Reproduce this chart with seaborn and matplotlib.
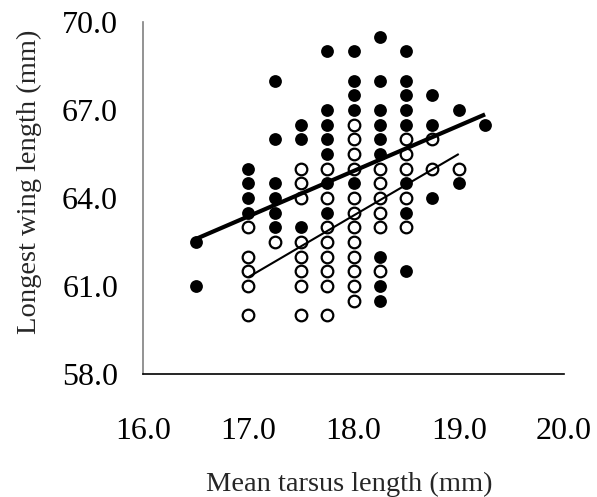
import matplotlib
matplotlib.use("Agg")
import matplotlib.pyplot as plt
import seaborn as sns
import pandas as pd
from matplotlib.ticker import FormatStrFormatter

# ---- data ----
filled_tarsus = [16.5, 16.5,
                 17.0, 17.0, 17.0, 17.0,
                 17.25, 17.25, 17.25, 17.25, 17.25, 17.25,
                 17.5, 17.5, 17.5,
                 17.75, 17.75, 17.75, 17.75, 17.75, 17.75, 17.75,
                 18.0, 18.0, 18.0, 18.0, 18.0,
                 18.25, 18.25, 18.25, 18.25, 18.25, 18.25, 18.25, 18.25, 18.25,
                 18.5, 18.5, 18.5, 18.5, 18.5, 18.5, 18.5, 18.5,
                 18.75, 18.75, 18.75,
                 19.0, 19.0,
                 19.25]
filled_wing = [62.5, 61.0,
               65.0, 64.5, 64.0, 63.5,
               68.0, 66.0, 64.5, 64.0, 63.5, 63.0,
               66.5, 66.0, 63.0,
               69.0, 67.0, 66.5, 66.0, 65.5, 64.5, 63.5,
               69.0, 68.0, 67.5, 67.0, 64.5,
               69.5, 68.0, 67.0, 66.5, 66.0, 65.5, 62.0, 61.0, 60.5,
               69.0, 68.0, 67.5, 67.0, 66.5, 64.5, 63.5, 61.5,
               67.5, 66.5, 64.0,
               67.0, 64.5,
               66.5]

open_tarsus = [17.0, 17.0, 17.0, 17.0, 17.0,
               17.25,
               17.5, 17.5, 17.5, 17.5, 17.5, 17.5, 17.5, 17.5,
               17.75, 17.75, 17.75, 17.75, 17.75, 17.75, 17.75, 17.75,
               18.0, 18.0, 18.0, 18.0, 18.0, 18.0, 18.0, 18.0, 18.0, 18.0, 18.0, 18.0,
               18.25, 18.25, 18.25, 18.25, 18.25, 18.25,
               18.5, 18.5, 18.5, 18.5, 18.5,
               18.75, 18.75,
               19.0]
open_wing = [63.0, 62.0, 61.5, 61.0, 60.0,
             62.5,
             65.0, 64.5, 64.0, 62.5, 62.0, 61.5, 61.0, 60.0,
             65.0, 64.0, 63.0, 62.5, 62.0, 61.5, 61.0, 60.0,
             66.5, 66.0, 65.5, 65.0, 64.0, 63.5, 63.0, 62.5, 62.0, 61.5, 61.0, 60.5,
             65.0, 64.5, 64.0, 63.5, 63.0, 61.5,
             66.0, 65.5, 65.0, 64.0, 63.0,
             66.0, 65.0,
             65.0]

# fitted trend lines as drawn in the reference (end values)
filled_fit_tarsus = [16.5, 19.25]
filled_fit_wing = [62.6, 66.85]
open_fit_tarsus = [17.0, 19.0]
open_fit_wing = [61.3, 65.5]

x_ticks = [16.0, 17.0, 18.0, 19.0, 20.0]
y_ticks = [58.0, 61.0, 64.0, 67.0, 70.0]
x_label = "Mean tarsus length (mm)"
y_label = "Longest wing length (mm)"

df_filled = pd.DataFrame({"tarsus": filled_tarsus, "wing": filled_wing})
df_open = pd.DataFrame({"tarsus": open_tarsus, "wing": open_wing})
df_filled_fit = pd.DataFrame({"tarsus": filled_fit_tarsus, "wing": filled_fit_wing})
df_open_fit = pd.DataFrame({"tarsus": open_fit_tarsus, "wing": open_fit_wing})

# ---- style ----
sns.set_theme(style="white")
plt.rcParams["font.family"] = ["Liberation Serif", "DejaVu Serif"]

fig = plt.figure(figsize=(5.97, 4.97), dpi=100)
ax = fig.add_axes([143 / 597, 1 - 374 / 497, (564 - 143) / 597, (374 - 22) / 497])

sns.scatterplot(data=df_filled, x="tarsus", y="wing", ax=ax, s=85,
                color="black", edgecolor="black", linewidth=0, zorder=2)
sns.scatterplot(data=df_open, x="tarsus", y="wing", ax=ax, s=70,
                color="white", edgecolor="black", linewidth=1.6, zorder=2)
sns.lineplot(data=df_filled_fit, x="tarsus", y="wing", ax=ax, color="black",
             lw=3.0, zorder=3, solid_capstyle="butt")
sns.lineplot(data=df_open_fit, x="tarsus", y="wing", ax=ax, color="black",
             lw=1.5, zorder=3, solid_capstyle="butt")

ax.set_xlim(16.0, 20.0)
ax.set_ylim(58.0, 70.0)
ax.set_xticks(x_ticks)
ax.set_yticks(y_ticks)
ax.xaxis.set_major_formatter(FormatStrFormatter("%.1f"))
ax.yaxis.set_major_formatter(FormatStrFormatter("%.1f"))

for side in ["top", "right"]:
    ax.spines[side].set_visible(False)
ax.spines["left"].set_color("#808080")
ax.spines["left"].set_linewidth(1.2)
ax.spines["bottom"].set_color("black")
ax.spines["bottom"].set_linewidth(1.2)

ax.tick_params(axis="both", direction="in", length=7, width=1, color="#808080",
               labelsize=23, labelcolor="black")
ax.tick_params(axis="x", pad=31)
ax.tick_params(axis="y", pad=18)

ax.set_xlabel(x_label, fontsize=20.5)
ax.set_ylabel(y_label, fontsize=20.5)
ax.xaxis.set_label_coords(0.49, -0.278)
ax.yaxis.set_label_coords(-0.24, 0.545)

fig.savefig("out.png", dpi=100)
